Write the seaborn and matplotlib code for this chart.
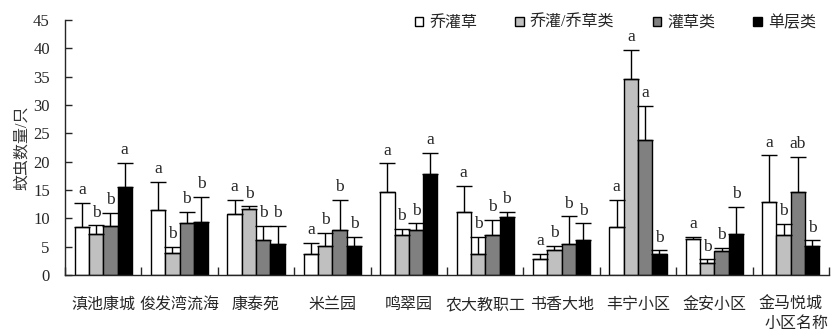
import matplotlib
matplotlib.use("Agg")
import matplotlib.pyplot as plt
import seaborn as sns
import pandas as pd
import numpy as np

# Mosquito counts by community and vegetation structure (mean and upper SE)
communities = ["滇池康城", "俊发湾流海", "康泰苑", "米兰园", "鸣翠园",
               "农大教职工", "书香大地", "丰宁小区", "金安小区", "金马悦城"]
structures = ["乔灌草", "乔灌/乔草类", "灌草类", "单层类"]

mean_qgc = [8.4, 11.4, 10.7, 3.8, 14.6, 11.1, 2.75, 8.4, 6.3, 12.9]
mean_qg = [7.3, 3.95, 11.6, 5.2, 7.0, 3.8, 4.5, 34.6, 2.2, 7.0]
mean_gc = [8.6, 9.2, 6.1, 8.0, 8.0, 7.0, 5.55, 23.9, 4.3, 14.7]
mean_dc = [15.6, 9.3, 5.55, 5.2, 17.9, 10.2, 6.1, 3.8, 7.3, 5.1]

err_qgc = [4.4, 5.0, 2.5, 1.9, 5.1, 4.6, 1.05, 4.8, 0.5, 8.2]
err_qg = [1.45, 1.05, 0.5, 2.3, 1.1, 3.0, 0.6, 5.1, 0.55, 2.0]
err_gc = [2.3, 1.9, 2.5, 5.2, 1.1, 2.7, 4.8, 6.0, 0.55, 6.2]
err_dc = [4.2, 4.5, 3.05, 1.6, 3.7, 0.9, 3.0, 0.55, 4.7, 1.0]

sig_qgc = ["a", "a", "a", "a", "a", "a", "a", "a", "a", "a"]
sig_qg = ["b", "b", "b", "b", "b", "b", "b", "a", "b", "b"]
sig_gc = ["b", "b", "b", "b", "b", "b", "b", "a", "b", "ab"]
sig_dc = ["a", "b", "b", "b", "a", "b", "b", "b", "b", "b"]

colors = ["#ffffff", "#c0c0c0", "#808080", "#000000"]

means = [mean_qgc, mean_qg, mean_gc, mean_dc]
errs = [err_qgc, err_qg, err_gc, err_dc]
sigs = [sig_qgc, sig_qg, sig_gc, sig_dc]

df = pd.DataFrame({
    "community": np.repeat([communities], 4, axis=0).ravel(),
    "structure": np.repeat(structures, len(communities)),
    "count": np.concatenate(means),
})

sns.set_style("ticks")
plt.rcParams["font.family"] = ["Liberation Serif", "Noto Sans CJK SC"]
plt.rcParams["axes.linewidth"] = 1.0

fig = plt.figure(figsize=(8.34, 3.33), dpi=100)
ax = fig.add_axes([0.078, 0.174, 0.916, 0.766])

sns.barplot(data=df, x="community", y="count", hue="structure",
            order=communities, hue_order=structures, palette=colors,
            width=0.75, gap=0, errorbar=None, edgecolor="black",
            linewidth=1.0, saturation=1, ax=ax)

# Upper error bars and significance letters
for cont, m, e, s in zip(ax.containers, means, errs, sigs):
    xs = [b.get_x() + b.get_width() / 2 for b in cont]
    ax.errorbar(xs, m, yerr=[np.zeros(len(m)), e], fmt="none",
                ecolor="black", elinewidth=1.0, capsize=5.5, capthick=1.0,
                zorder=1)
    for x, top, lab in zip(xs, np.add(m, e), s):
        ax.annotate(lab, (x, top), xytext=(0, 3.5), textcoords="offset points",
                    ha="center", va="bottom", fontsize=12.5,
                    family=["Liberation Serif"])

ax.set_xlim(-0.5, len(communities) - 0.5)
ax.set_ylim(0, 45)
ax.set_yticks(range(0, 46, 5))
ax.tick_params(axis="y", direction="in", length=5, width=1.0, pad=11,
               labelsize=12)
ax.tick_params(axis="x", which="major", length=0, pad=16, labelsize=11.5)
ax.set_xticks(np.arange(-0.5, len(communities)), minor=True)
ax.tick_params(axis="x", which="minor", direction="in", length=6, width=1.0)
sns.despine(ax=ax)

ax.set_ylabel("蚊虫数量/只", fontsize=11.5, labelpad=2, color="#333333")
ax.set_xlabel("小区名称", fontsize=11.5, loc="right", labelpad=2)

ax.legend(ncol=4, frameon=False, loc="center right",
          bbox_to_anchor=(0.978, 0.931), bbox_transform=fig.transFigure,
          borderaxespad=0, borderpad=0, handlelength=0.55, handleheight=0.55,
          handletextpad=0.35, columnspacing=2.4, fontsize=11.5)

fig.savefig("out.png", dpi=100)
